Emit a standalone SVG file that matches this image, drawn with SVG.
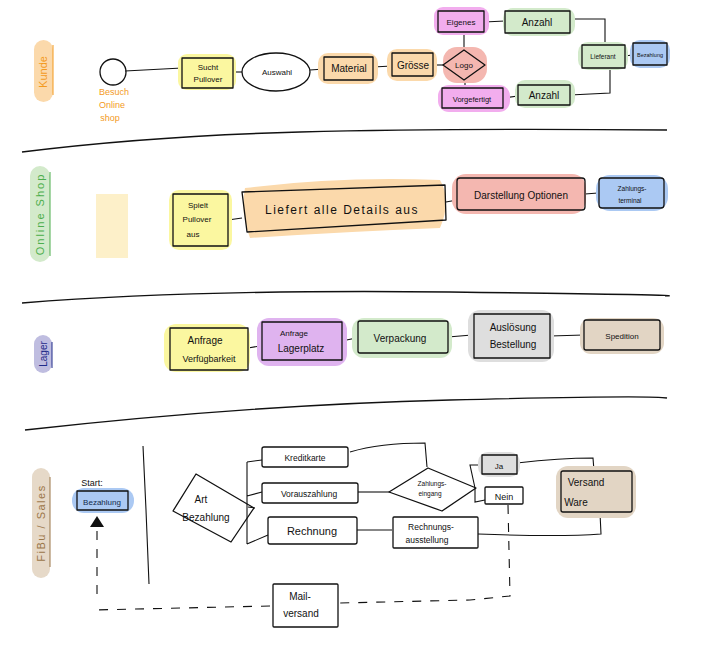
<svg xmlns="http://www.w3.org/2000/svg" width="716" height="656" viewBox="0 0 716 656">
<defs>
<style>
.bx{fill:none;stroke:#111;stroke-width:1.3;stroke-linejoin:round}
.ln{fill:none;stroke:#111;stroke-width:1.1}
.dash{fill:none;stroke:#111;stroke-width:1.1;stroke-dasharray:9,9}
.lane{fill:none;stroke:#111;stroke-width:1.4}
.t{font-family:"Liberation Sans",Arial,sans-serif;font-size:10px;fill:#111;text-anchor:middle}
.s{font-size:8px}
.xs{font-size:6.5px}
.yel{fill:#fbf7a0}
.org{fill:#fbd9ab}
.red{fill:#f4b7b0}
.mag{fill:#f2adee}
.grn{fill:#d3eacb}
.blu{fill:#abc9f3}
.pur{fill:#dfb3ef}
.gry{fill:#dedede}
.brn{fill:#e2d5c4}
</style>
</defs>
<rect width="716" height="656" fill="#fff"/>

<g id="lanes">
<path class="lane" d="M22,152 Q150,136 300,132 T667,130"/>
<path class="lane" d="M22,303 Q200,289 450,292 T665,296"/>
<path class="lane" d="M25,430 Q250,405 450,400 T667,398"/>
</g>

<g id="lane-kunde">
<rect x="34" y="40" width="19" height="62" rx="9.5" fill="#fbd9ab"/>
<line x1="53" y1="45" x2="53" y2="95" stroke="#f39a1e" stroke-width="1"/>
<text class="t" transform="translate(47,72) rotate(-90)" fill="#f39a1e" style="fill:#f39a1e;font-size:11px">Kunde</text>
</g>
<g id="lane-online">
<rect x="30" y="166" width="20" height="96" rx="10" fill="#d3eacb"/>
<line x1="50" y1="172" x2="50" y2="256" stroke="#4cae4c" stroke-width="1"/>
<text class="t" transform="translate(44,214) rotate(-90)" style="fill:#4cae4c;font-size:11px;letter-spacing:2px">Online Shop</text>
</g>
<g id="lane-lager">
<rect x="34" y="335" width="18" height="38" rx="9" fill="#bfbde0"/>
<line x1="52" y1="342" x2="52" y2="368" stroke="#1f2a8a" stroke-width="1"/>
<text class="t" transform="translate(47,354) rotate(-90)" style="fill:#1f2a8a;font-size:10px">Lager</text>
</g>
<g id="lane-fibu">
<rect x="32" y="468" width="18" height="110" rx="9" fill="#e6d9c8"/>
<line x1="50" y1="477" x2="50" y2="567" stroke="#9b7648" stroke-width="1"/>
<text class="t" transform="translate(45,523) rotate(-90)" style="fill:#9b7648;font-size:11px;letter-spacing:1.5px">FiBu / Sales</text>
</g>

<g id="connectors">
<path class="ln" d="M125,71 L182,68"/>
<path class="ln" d="M233,72 L242,72"/>
<path class="ln" d="M310,70 L324,69"/>
<path class="ln" d="M373,67 L392,66"/>
<path class="ln" d="M433,65 L443,65"/>
<path class="ln" d="M464,50 L464,32"/>
<path class="ln" d="M465,80 L465,89"/>
<path class="ln" d="M484,22 L505,21"/>
<path class="ln" d="M503,98 L518,96"/>
<path class="ln" d="M570,19 L605,19 L605,45"/>
<path class="ln" d="M570,95 L610,93 L610,68"/>
<path class="ln" d="M625,56 L632,55"/>
<path class="ln" d="M228,220 L242,218"/>
<path class="ln" d="M446,202 L457,200"/>
<path class="ln" d="M585,194 L598,193"/>
<path class="ln" d="M248,348 L260,346"/>
<path class="ln" d="M342,341 L356,338"/>
<path class="ln" d="M448,337 L472,335"/>
<path class="ln" d="M550,336 L584,335"/>
<path class="ln" d="M255,508 L248,507 M247,462 L247,544 M247,462 L262,460 M247,496 L262,492 M247,544 L268,535"/>
<path class="ln" d="M350,452 Q380,443 425,443 L427,467"/>
<path class="ln" d="M358,492 L390,492"/>
<path class="ln" d="M357,530 L392,530"/>
<path class="ln" d="M475,488 L470,465 L482,465 M475,488 L475,502 L485,500"/>
<path class="ln" d="M517,463 Q560,458 593,458 L594,471"/>
<path class="ln" d="M600,513 L601,534 Q560,537 478,534"/>
<path class="dash" d="M508,505 L510,596 L470,600 L340,603"/>
<path class="dash" d="M270,606 L93,610"/>
<path class="dash" d="M97,594 L97,528"/>
<polygon points="97,516 90,527 104,527" fill="#111"/>
</g>

<g id="n-start">
<circle cx="113" cy="72" r="13" class="bx"/>
<text class="t" x="111" y="95" text-anchor="middle" style="fill:#f39a1e;font-size:9px"><tspan x="114" y="95">Besuch</tspan><tspan x="112" y="108">Online</tspan><tspan x="110" y="121">shop</tspan></text>
</g>
<g id="n-sucht">
<rect x="178" y="54" width="58" height="36" rx="9" class="yel"/>
<rect x="182" y="58" width="51" height="30" class="bx"/>
<text class="t s" x="208" y="70">Sucht<tspan x="208" y="82">Pullover</tspan></text>
</g>
<g id="n-auswahl">
<ellipse cx="276" cy="72" rx="34" ry="19" class="bx"/>
<text class="t s" x="277" y="75">Auswahl</text>
</g>
<g id="n-material">
<rect x="318" y="53" width="60" height="31" rx="10" class="org"/>
<rect x="324" y="57" width="49" height="23" class="bx"/>
<text class="t" x="349" y="72">Material</text>
</g>
<g id="n-groesse">
<rect x="387" y="49" width="50" height="32" rx="10" class="org"/>
<rect x="392" y="53" width="41" height="23" class="bx"/>
<text class="t" x="413" y="69">Grösse</text>
</g>
<g id="n-logo">
<rect x="443" y="47" width="44" height="36" rx="14" class="red"/>
<polygon points="443,65 464,50 485,65 464,80" class="bx"/>
<text class="t s" x="464" y="68">Logo</text>
</g>
<g id="n-eigenes">
<rect x="434" y="7" width="55" height="28" rx="9" class="mag"/>
<rect x="438" y="11" width="46" height="21" class="bx"/>
<text class="t s" x="461" y="25">Eigenes</text>
</g>
<g id="n-anzahl1">
<rect x="503" y="8" width="72" height="28" rx="10" class="grn"/>
<rect x="505" y="11" width="65" height="22" class="bx"/>
<text class="t" x="537" y="26">Anzahl</text>
</g>
<g id="n-vorgefertigt">
<rect x="438" y="85" width="72" height="27" rx="11" class="mag"/>
<rect x="442" y="88" width="61" height="20" class="bx"/>
<text class="t" x="472" y="102" style="font-size:7.5px">Vorgefertigt</text>
</g>
<g id="n-anzahl2">
<rect x="515" y="80" width="60" height="28" rx="10" class="grn"/>
<rect x="518" y="85" width="52" height="20" class="bx"/>
<text class="t" x="544" y="99">Anzahl</text>
</g>
<g id="n-lieferant">
<rect x="578" y="42" width="50" height="28" rx="10" class="grn"/>
<rect x="582" y="45" width="43" height="23" class="bx"/>
<text class="t xs" x="603" y="59">Lieferant</text>
</g>
<g id="n-bezahlung1">
<rect x="630" y="40" width="40" height="28" rx="10" class="blu"/>
<rect x="633" y="43" width="34" height="22" class="bx"/>
<text class="t" x="650" y="57" style="font-size:5.5px">Bezahlung</text>
</g>

<g id="n-platzhalter">
<rect x="96" y="194" width="32" height="64" fill="#fdf0c9"/>
</g>
<g id="n-spielt">
<rect x="169" y="190" width="63" height="60" rx="10" class="yel"/>
<rect x="173" y="194" width="55" height="52" class="bx"/>
<text class="t s" x="198" y="208">Spielt<tspan x="197" y="222">Pullover</tspan><tspan x="193" y="237">aus</tspan></text>
</g>
<g id="n-liefert">
<path d="M245,188 Q340,176 440,180 Q452,200 440,228 Q340,232 250,238 Q240,212 245,188Z" class="org"/>
<path d="M242,192 L445,185 L446,220 L247,232 Z" class="bx"/>
<text class="t" x="342" y="214" style="font-size:12px;letter-spacing:1.5px">Liefert alle Details aus</text>
</g>
<g id="n-darstellung">
<rect x="452" y="174" width="134" height="40" rx="14" class="red"/>
<rect x="457" y="178" width="128" height="32" rx="3" class="bx"/>
<text class="t" x="521" y="199">Darstellung Optionen</text>
</g>
<g id="n-zahlungsterminal">
<rect x="596" y="175" width="72" height="36" rx="14" class="blu"/>
<rect x="599" y="178" width="65" height="30" rx="3" class="bx"/>
<text class="t xs" x="632" y="191">Zahlungs-<tspan x="630" y="203">terminal</tspan></text>
</g>

<g id="n-anfrage-verf">
<rect x="164" y="324" width="86" height="48" rx="12" class="yel"/>
<rect x="170" y="328" width="78" height="42" class="bx"/>
<text class="t" x="205" y="344">Anfrage<tspan x="209" y="362" style="font-size:9px">Verfügbarkeit</tspan></text>
</g>
<g id="n-anfrage-lager">
<rect x="257" y="318" width="90" height="48" rx="12" class="pur"/>
<rect x="262" y="322" width="80" height="38" class="bx"/>
<text class="t s" x="294" y="336">Anfrage<tspan x="301" y="352" style="font-size:10px">Lagerplatz</tspan></text>
</g>
<g id="n-verpackung">
<rect x="352" y="318" width="100" height="40" rx="12" class="grn"/>
<rect x="358" y="321" width="90" height="32" rx="2" class="bx"/>
<text class="t" x="400" y="342">Verpackung</text>
</g>
<g id="n-ausloesung">
<rect x="468" y="310" width="86" height="52" rx="12" class="gry"/>
<rect x="474" y="314" width="76" height="44" class="bx"/>
<text class="t" x="513" y="331">Auslösung<tspan x="513" y="348">Bestellung</tspan></text>
</g>
<g id="n-spedition">
<rect x="580" y="318" width="84" height="36" rx="11" class="brn"/>
<rect x="584" y="320" width="76" height="30" rx="2" class="bx"/>
<text class="t s" x="622" y="339">Spedition</text>
</g>

<g id="n-start-bezahlung">
<text class="t" x="92" y="486" style="font-size:9px">Start:</text>
<rect x="72" y="488" width="62" height="25" rx="12" class="blu"/>
<rect x="77" y="491" width="51" height="19" class="bx"/>
<text class="t" x="102" y="505" style="font-size:8px;fill:#13294b">Bezahlung</text>
</g>
<g id="n-divider">
<path class="ln" d="M143,446 L146,510 L149,584" stroke-width="1.3"/>
</g>
<g id="n-art">
<polygon points="173,511 196,474 254,508 231,542" class="bx"/>
<text class="t" x="201" y="503" style="font-size:10px">Art<tspan x="206" y="521">Bezahlung</tspan></text>
</g>
<g id="n-kreditkarte">
<rect x="262" y="447" width="86" height="20" rx="2" class="bx"/>
<text class="t" x="305" y="461" style="font-size:8.5px">Kreditkarte</text>
</g>
<g id="n-vorauszahlung">
<rect x="262" y="483" width="96" height="20" rx="2" class="bx"/>
<text class="t" x="309" y="497" style="font-size:8.5px">Vorauszahlung</text>
</g>
<g id="n-rechnung">
<rect x="268" y="517" width="89" height="27" rx="2" class="bx"/>
<text class="t" x="312" y="535" style="font-size:11px">Rechnung</text>
</g>
<g id="n-zahlungseingang">
<polygon points="389,492 428,468 476,488 442,511" class="bx"/>
<text class="t xs" x="432" y="486">Zahlungs-<tspan x="430" y="496">eingang</tspan></text>
</g>
<g id="n-rechnungsausstellung">
<rect x="393" y="517" width="85" height="31" rx="1" class="bx"/>
<text class="t" x="431" y="530" style="font-size:8.5px">Rechnungs-<tspan x="427" y="543">ausstellung</tspan></text>
</g>
<g id="n-ja">
<rect x="478" y="452" width="42" height="25" rx="10" class="gry"/>
<rect x="482" y="455" width="35" height="19" class="bx"/>
<text class="t s" x="499" y="469">Ja</text>
</g>
<g id="n-nein">
<rect x="485" y="487" width="38" height="17" rx="1" class="bx"/>
<text class="t" x="504" y="500" style="font-size:9px">Nein</text>
</g>
<g id="n-versand">
<rect x="556" y="466" width="80" height="52" rx="12" class="brn"/>
<rect x="561" y="471" width="71" height="41" rx="2" class="bx"/>
<text class="t" x="586" y="486" style="font-size:10px">Versand<tspan x="576" y="506">Ware</tspan></text>
</g>
<g id="n-mailversand">
<rect x="273" y="584" width="65" height="43" rx="1" class="bx"/>
<text class="t" x="300" y="600" style="font-size:10px">Mail-<tspan x="301" y="617">versand</tspan></text>
</g>
</svg>
